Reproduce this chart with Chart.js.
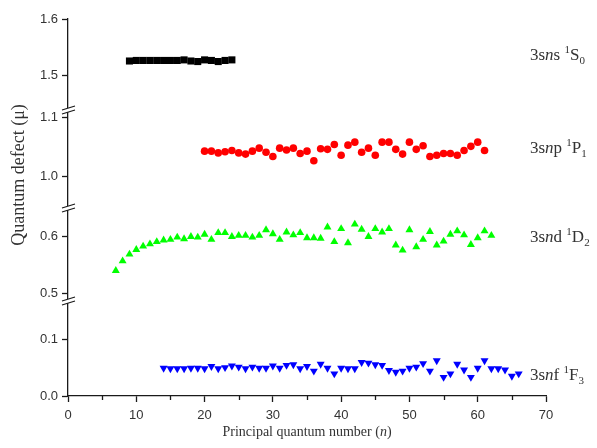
<!DOCTYPE html>
<html>
<head>
<meta charset="utf-8">
<script src="https://cdn.jsdelivr.net/npm/chart.js@4.4.0/dist/chart.umd.min.js"></script>
<style>
  html, body { margin: 0; padding: 0; background: #fff; }
  #wrap { width: 597px; height: 448px; }
</style>
</head>
<body>
<div id="wrap"><canvas id="defectChart"></canvas></div>
<script>
// 3sns 1S0
const nS = [9, 10, 11, 12, 13, 14, 15, 16, 17, 18, 19, 20, 21, 22, 23, 24];
const muS = [1.525, 1.526, 1.526, 1.526, 1.526, 1.526, 1.526, 1.526, 1.527, 1.525, 1.524, 1.527, 1.526, 1.524, 1.526, 1.527];

// 3snp 1P1
const nP = [20, 21, 22, 23, 24, 25, 26, 27, 28, 29, 30, 31, 32, 33, 34, 35, 36, 37, 38, 39, 40,
  41, 42, 43, 44, 45, 46, 47, 48, 49, 50, 51, 52, 53, 54, 55, 56, 57, 58, 59, 60, 61];
const muP = [1.043, 1.043, 1.040, 1.042, 1.044, 1.040, 1.038, 1.043, 1.048, 1.041, 1.034, 1.048, 1.045,
  1.048, 1.039, 1.043, 1.027, 1.047, 1.046, 1.054, 1.036, 1.053, 1.058, 1.041, 1.048, 1.036, 1.058,
  1.058, 1.046, 1.038, 1.058, 1.046, 1.052, 1.034, 1.036, 1.039, 1.039, 1.036, 1.044, 1.051, 1.058, 1.044];

// 3snd 1D2
const nD = [7, 8, 9, 10, 11, 12, 13, 14, 15, 16, 17, 18, 19, 20, 21, 22, 23, 24, 25, 26, 27, 28, 29, 30,
  31, 32, 33, 34, 35, 36, 37, 38, 39, 40, 41, 42, 43, 44, 45, 46, 47, 48, 49, 50, 51, 52, 53, 54, 55,
  56, 57, 58, 59, 60, 61, 62];
const muD = [0.540, 0.557, 0.569, 0.577, 0.583, 0.587, 0.591, 0.594, 0.595, 0.599, 0.596, 0.600, 0.599,
  0.604, 0.595, 0.607, 0.607, 0.600, 0.602, 0.602, 0.599, 0.602, 0.612, 0.605, 0.595, 0.608, 0.603,
  0.607, 0.598, 0.598, 0.597, 0.617, 0.591, 0.614, 0.589, 0.622, 0.613, 0.600, 0.614, 0.608, 0.614,
  0.585, 0.576, 0.612, 0.582, 0.595, 0.609, 0.585, 0.592, 0.604, 0.610, 0.603, 0.586, 0.598, 0.610, 0.602];

// 3snf 1F3
const nF = [14, 15, 16, 17, 18, 19, 20, 21, 22, 23, 24, 25, 26, 27, 28, 29, 30, 31, 32, 33, 34, 35, 36,
  37, 38, 39, 40, 41, 42, 43, 44, 45, 46, 47, 48, 49, 50, 51, 52, 53, 54, 55, 56, 57, 58, 59, 60, 61,
  62, 63, 64, 65, 66];
const muF = [0.049, 0.048, 0.048, 0.048, 0.049, 0.049, 0.048, 0.052, 0.048, 0.050, 0.053, 0.051, 0.048,
  0.051, 0.049, 0.049, 0.053, 0.049, 0.054, 0.055, 0.048, 0.052, 0.044, 0.056, 0.049, 0.039,
  0.049, 0.048, 0.048, 0.059, 0.058, 0.055, 0.054, 0.045, 0.042, 0.044, 0.049, 0.051, 0.057, 0.044,
  0.062, 0.033, 0.039, 0.056, 0.046, 0.033, 0.049, 0.062, 0.048, 0.048, 0.046, 0.035, 0.039];

const xTicks = [0, 10, 20, 30, 40, 50, 60, 70];
const xMinorTicks = [5, 15, 25, 35, 45, 55, 65];
const yTicksF = [0.0, 0.1];
const yTicksD = [0.5, 0.6];
const yTicksP = [1.0, 1.1];
const yTicksS = [1.5, 1.6];

// series name pieces: 3s n <orbital>  ^1 <term> _J
const orbitals = ['s', 'p', 'd', 'f'];
const terms = ['S', 'P', 'D', 'F'];
const jValues = ['0', '1', '2', '3'];

const AXIS = '#1a1a1a';
const TEXT = '#333';
const SERIF = '"Liberation Serif", "Times New Roman", serif';

function pts(xs, ys) {
  return xs.map((x, i) => ({ x: x, y: ys[i] }));
}

function yAxis(lo, hi, weight, ticks) {
  return {
    type: 'linear',
    position: 'left',
    stack: 'mu',
    stackWeight: weight,
    min: lo,
    max: hi,
    border: { color: AXIS, width: 1.3 },
    grid: { drawOnChartArea: false, tickLength: 6, tickColor: AXIS, tickWidth: 1.3 },
    ticks: {
      color: TEXT,
      padding: 4,
      font: { family: '"Liberation Sans", Arial, sans-serif', size: 13 },
      callback: v => Number(v).toFixed(1)
    },
    afterBuildTicks: s => { s.ticks = ticks.map(v => ({ value: v })); },
    afterFit: s => { s.width = 68; }
  };
}

// axis breaks, minor ticks, titles and series names
const decorations = {
  id: 'decorations',
  afterDraw(chart) {
    const ctx = chart.ctx;
    const area = chart.chartArea;
    const sc = chart.scales;
    const ax = area.left;

    ctx.save();
    // minor ticks on the n axis
    ctx.strokeStyle = AXIS;
    ctx.lineWidth = 1.3;
    xMinorTicks.forEach(v => {
      const px = Math.round(sc.x.getPixelForValue(v)) + 0.5;
      ctx.beginPath();
      ctx.moveTo(px, area.bottom);
      ctx.lineTo(px, area.bottom + 4);
      ctx.stroke();
    });

    // break marks where the stacked segments meet
    [sc.yF.top, sc.yD.top, sc.yP.top].forEach(b => {
      ctx.fillStyle = '#fff';
      ctx.fillRect(ax - 2, b - 2, 4, 4);
      ctx.strokeStyle = AXIS;
      ctx.lineWidth = 1.1;
      [-2, 2].forEach(o => {
        ctx.beginPath();
        ctx.moveTo(ax - 6, b + o + 2);
        ctx.lineTo(ax + 7, b + o - 2);
        ctx.stroke();
      });
    });

    // y title
    ctx.fillStyle = TEXT;
    ctx.save();
    ctx.translate(19, 175);
    ctx.rotate(-Math.PI / 2);
    ctx.textAlign = 'center';
    ctx.textBaseline = 'middle';
    ctx.font = '18px ' + SERIF;
    ctx.fillText('Quantum defect (\u03bc)', 0, 0);
    ctx.restore();

    // x title with italic n
    ctx.textBaseline = 'alphabetic';
    ctx.textAlign = 'left';
    const xParts = [['Principal quantum number (', ''], ['n', 'italic '], [')', '']];
    let w = 0;
    xParts.forEach(p => { ctx.font = p[1] + '14px ' + SERIF; w += ctx.measureText(p[0]).width; });
    let tx = (area.left + area.right) / 2 - w / 2;
    xParts.forEach(p => {
      ctx.font = p[1] + '14px ' + SERIF;
      ctx.fillText(p[0], tx, area.bottom + 40);
      tx += ctx.measureText(p[0]).width;
    });

    // series names at the right
    const nameAt = [
      { axis: 'yS', value: 1.526 },
      { axis: 'yP', value: 1.0405 },
      { axis: 'yD', value: 0.5906 },
      { axis: 'yF', value: 0.028 }
    ];
    nameAt.forEach((at, i) => {
      const y = sc[at.axis].getPixelForValue(at.value);
      const parts = [
        ['3s', '', 17, 0], ['n', 'italic ', 17, 0], [orbitals[i] + ' ', '', 17, 0],
        ['1', '', 11, -7], [terms[i], '', 17, 0], [jValues[i], '', 11, 4]
      ];
      let lx = area.right - 16;
      parts.forEach(p => {
        ctx.font = p[1] + p[2] + 'px ' + SERIF;
        ctx.fillText(p[0], lx, y + p[3]);
        lx += ctx.measureText(p[0]).width;
      });
    });
    ctx.restore();
  }
};

const marker = { showLine: false, borderWidth: 0, pointHoverRadius: 5 };

new Chart(document.getElementById('defectChart'), {
  type: 'scatter',
  data: {
    datasets: [
      Object.assign({ label: '3sns 1S0', data: pts(nS, muS), yAxisID: 'yS', pointStyle: 'rect',
        pointRadius: 5, backgroundColor: '#000', borderColor: '#000' }, marker),
      Object.assign({ label: '3snp 1P1', data: pts(nP, muP), yAxisID: 'yP', pointStyle: 'circle',
        pointRadius: 3.8, backgroundColor: '#ff0000', borderColor: '#ff0000' }, marker),
      Object.assign({ label: '3snd 1D2', data: pts(nD, muD), yAxisID: 'yD', pointStyle: 'triangle',
        pointRadius: 4.6, backgroundColor: '#00ff00', borderColor: '#00ff00' }, marker),
      Object.assign({ label: '3snf 1F3', data: pts(nF, muF), yAxisID: 'yF', pointStyle: 'triangle',
        rotation: 180, pointRadius: 4.6, backgroundColor: '#0000ff', borderColor: '#0000ff' }, marker)
    ]
  },
  options: {
    responsive: true,
    maintainAspectRatio: false,
    animation: false,
    layout: { padding: { left: 0, right: 51, top: 19, bottom: 0 } },
    plugins: { legend: { display: false }, tooltip: { enabled: false } },
    scales: {
      x: {
        type: 'linear',
        position: 'bottom',
        min: 0,
        max: 70,
        border: { color: AXIS, width: 1.3 },
        grid: { drawOnChartArea: false, tickLength: 6, tickColor: AXIS, tickWidth: 1.3 },
        ticks: {
          color: TEXT,
          padding: 6,
          font: { family: '"Liberation Sans", Arial, sans-serif', size: 13 }
        },
        afterBuildTicks: s => { s.ticks = xTicks.map(v => ({ value: v })); },
        afterFit: s => { s.height = 52; }
      },
      yF: yAxis(0, 0.1667, 95, yTicksF),
      yD: yAxis(0.4864, 0.6507, 93, yTicksD),
      yP: yAxis(0.948, 1.1117, 98, yTicksP),
      yS: yAxis(1.4375, 1.6, 91, yTicksS)
    }
  },
  plugins: [decorations]
});
</script>
</body>
</html>
